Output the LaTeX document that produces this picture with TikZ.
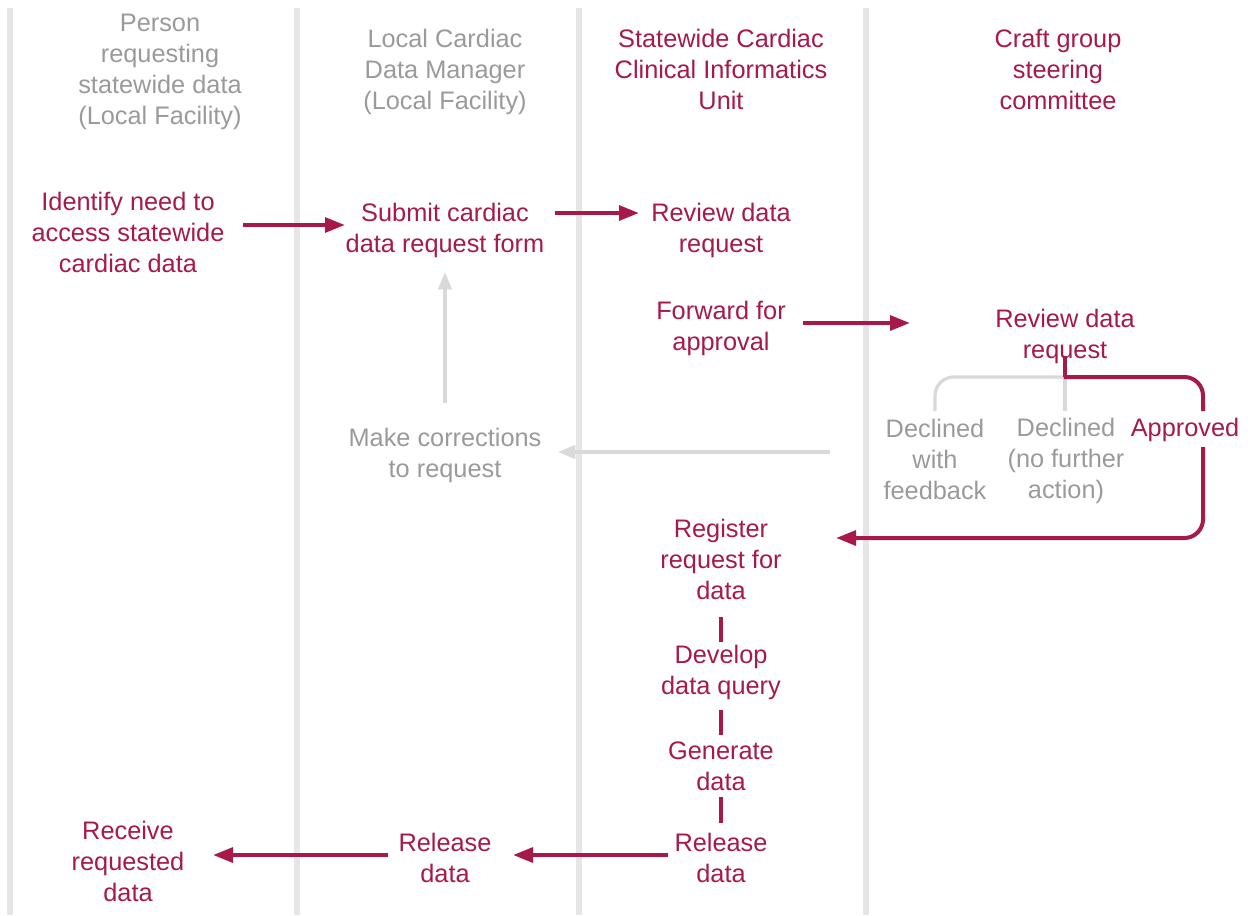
\documentclass[tikz,border=0pt]{standalone}
\usepackage{fontspec}
\setmainfont{Liberation Sans}
\usetikzlibrary{arrows.meta}
\definecolor{crim}{HTML}{A6194A}
\definecolor{gtext}{HTML}{9A9A9A}
\definecolor{gline}{HTML}{D9D9D9}
\definecolor{lane}{HTML}{E6E6E6}
\tikzset{
  txt/.style={align=center,inner sep=0pt,font=\fontsize{19}{23.25}\selectfont},
  rtxt/.style={txt,text=crim},
  gtxt/.style={txt,text=gtext},
  rarr/.style={draw=crim,line width=3pt,-{Triangle[length=15pt,width=11pt]}},
  garr/.style={draw=gline,line width=2.4pt,-{Triangle[length=13pt,width=10pt]}},
  rline/.style={draw=crim,line width=3pt},
  gline/.style={draw=gline,line width=2.4pt},
  laneline/.style={draw=lane,line width=3.8pt}
}
\begin{document}
\begin{tikzpicture}[x=0.75pt,y=-0.75pt]
\useasboundingbox (0,0) rectangle (1259,915);
% lanes
\foreach \x in {10,297,579,866} \draw[laneline] (\x,8) -- (\x,915);
% headers
\node[gtxt] (h1) at (160,72) {Person\\requesting\\statewide data\\(Local Facility)};
\node[gtxt] (h2) at (445,72) {Local Cardiac\\Data Manager\\(Local Facility)};
\node[rtxt] (h3) at (721,69) {Statewide Cardiac\\Clinical Informatics\\Unit};
\node[rtxt] (h4) at (1058,69) {Craft group\\steering\\committee};
% steps
\node[rtxt] (ident) at (128,232) {Identify need to\\access statewide\\cardiac data};
\node[rtxt] (submit) at (445,230) {Submit cardiac\\data request form};
\node[rtxt] (rev1) at (721,230) {Review data\\request};
\node[rtxt] (fwd) at (721,328) {Forward for\\approval};
\node[rtxt] (rev2) at (1065,336) {Review data\\request};
\node[gtxt] (make) at (445,455) {Make corrections\\to request};
\node[gtxt] (decf) at (935,459) {Declined\\with\\feedback};
\node[gtxt] (decn) at (1066,461) {Declined\\(no further\\action)};
\node[rtxt] (appr) at (1185,430) {Approved};
\node[rtxt] (reg) at (721,559) {Register\\request for\\data};
\node[rtxt] (dev) at (721,672) {Develop\\data query};
\node[rtxt] (gen) at (721,766) {Generate\\data};
\node[rtxt] (rel3) at (721,858) {Release\\data};
\node[rtxt] (rel2) at (445,858) {Release\\data};
\node[rtxt] (recv) at (128,861) {Receive\\requested\\data};
% connectors
\coordinate (a1s) at (243,225); \coordinate (a1e) at (345,225);
\draw[rarr] (a1s) -- (a1e);
\coordinate (a2s) at (555,213); \coordinate (a2e) at (639,213);
\draw[rarr] (a2s) -- (a2e);
\coordinate (a3s) at (803,323); \coordinate (a3e) at (910,323);
\draw[rarr] (a3s) -- (a3e);
\coordinate (upS) at (445,403); \coordinate (upE) at (445,272);
\draw[garr] (upS) -- (upE);
\coordinate (lfS) at (830,452); \coordinate (lfE) at (558,452);
\draw[garr] (lfS) -- (lfE);
% branch
\coordinate (bt) at (1065,356);
\coordinate (bj) at (1065,377);
\draw[gline,rounded corners=14pt] (bj) -- (935,377) -- (935,411);
\draw[gline] (bj) -- (1065,411);
\draw[rline] (bt) -- (bj);
\draw[rline,rounded corners=14pt] (1063.9,377) -- (1203,377) -- (1203,411);
\draw[rarr,rounded corners=14pt] (1203,447) -- (1203,538) -- (836,538);
% vertical chain
\draw[rline] (721,617) -- (721,642);
\draw[rline] (721,710) -- (721,735);
\draw[rline] (721,797) -- (721,823);
% bottom arrows
\draw[rarr] (668,855) -- (513,855);
\draw[rarr] (388,855) -- (213,855);
\end{tikzpicture}
\end{document}
